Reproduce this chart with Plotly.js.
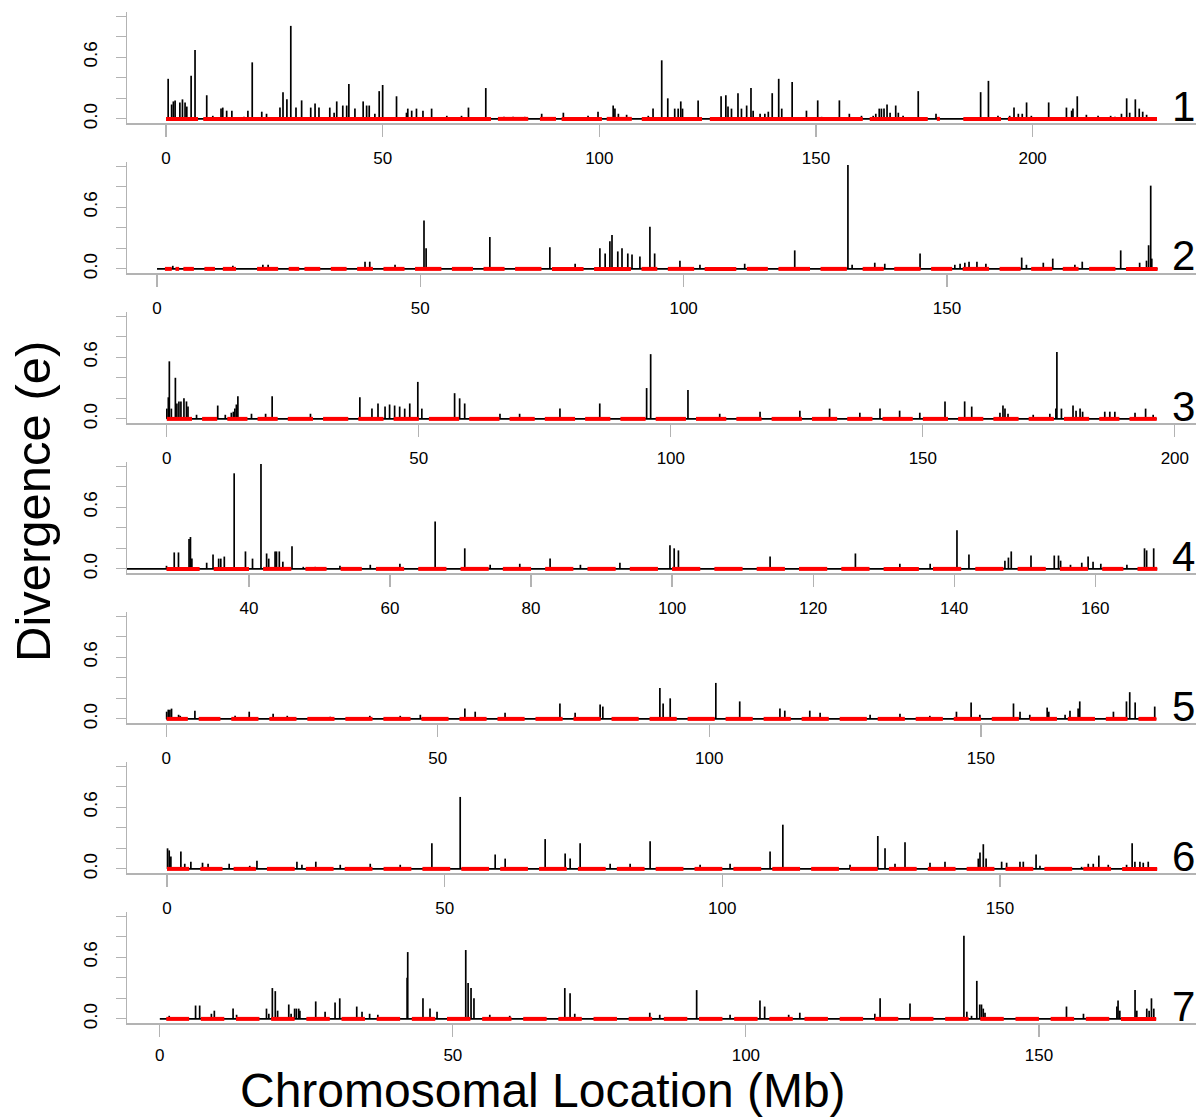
<!DOCTYPE html>
<html><head><meta charset="utf-8">
<script src="https://cdn.plot.ly/plotly-3.0.1.min.js"></script>
<style>body{margin:0;background:#fff}#chart{width:1196px;height:1120px}</style>
</head><body><div id="chart"></div>
<script>
// ---- data: spike positions (Mb) and divergence values per chromosome ----
const chr1Pos = [0.5,1.3,1.7,2.1,3.2,3.8,4.4,4.8,5.8,6.7,9.4,10.8,12.7,13.1,14.0,15.2,18.0,18.9,19.9,22.1,23.2,26.3,27.0,27.9,28.8,30.0,31.3,33.4,34.4,35.3,37.8,38.8,39.4,40.8,41.7,42.2,43.6,45.5,46.3,46.9,48.2,49.2,50.0,53.2,55.5,55.8,56.7,57.8,59.3,61.3,64.8,68.2,69.8,73.8,78,80.1,82.8,86.7,91.7,97.4,99.7,103.2,103.6,104.4,106.3,111.3,112.4,114.4,115.8,117.4,118.2,118.8,119.2,122.8,128.1,129.2,129.7,130.5,132.0,132.8,134.0,135.0,135.5,137.1,138.2,139.0,139.9,141.4,142.1,144.5,147.8,150.4,151.3,155.4,157.7,160.5,163.2,163.8,164.6,165.1,165.7,166.4,167.1,168.4,169.0,170.1,173.6,177.7,188.0,189.8,192.0,194.7,195.7,196.7,197.6,198.6,199.7,203.7,207.8,209.0,209.3,210.3,212.4,215.1,218.0,219.0,220.5,221.7,222.4,223.7,224.6,225.4,226.3];
const chr1Val = [0.39,0.14,0.17,0.18,0.16,0.19,0.16,0.12,0.42,0.67,0.23,0.03,0.10,0.11,0.08,0.08,0.02,0.08,0.55,0.07,0.05,0.11,0.26,0.19,0.905,0.11,0.18,0.11,0.15,0.11,0.11,0.06,0.17,0.13,0.13,0.34,0.10,0.17,0.13,0.13,0.05,0.27,0.33,0.22,0.06,0.10,0.08,0.10,0.08,0.10,0.03,0.03,0.11,0.30,0.02,0.02,0.02,0.05,0.06,0.03,0.07,0.13,0.10,0.05,0.04,0.03,0.10,0.57,0.20,0.10,0.10,0.17,0.10,0.18,0.22,0.23,0.12,0.10,0.25,0.10,0.13,0.30,0.08,0.05,0.05,0.07,0.25,0.39,0.10,0.36,0.08,0.18,0.02,0.18,0.05,0.03,0.03,0.05,0.10,0.10,0.10,0.14,0.06,0.13,0.06,0.03,0.27,0.05,0.26,0.37,0.03,0.03,0.11,0.05,0.05,0.16,0.03,0.16,0.11,0.08,0.10,0.22,0.04,0.03,0.03,0.02,0.05,0.20,0.06,0.19,0.10,0.07,0.04];

const chr2Pos = [3.0,14.4,20.1,21.1,39.5,40.4,45.2,50.7,51.1,63.2,74.6,79.4,84.1,85.1,86.0,86.4,87.5,88.3,89.4,90.2,91.7,93.6,94.5,99.3,103.1,111.6,121.1,131.2,132.0,136.3,138.2,144.9,151.5,152.5,153.4,154.2,155.7,157.4,164.2,165.1,168.3,170.1,174.3,175.7,183.0,186.6,187.9,188.3,188.7,188.9];
const chr2Val = [0.03,0.03,0.04,0.04,0.07,0.07,0.04,0.47,0.20,0.31,0.21,0.05,0.20,0.15,0.27,0.33,0.17,0.20,0.15,0.14,0.12,0.41,0.15,0.08,0.04,0.05,0.18,1.01,0.04,0.06,0.05,0.15,0.04,0.05,0.06,0.07,0.07,0.05,0.11,0.04,0.06,0.10,0.04,0.07,0.18,0.06,0.08,0.23,0.81,0.10];

const chr3Pos = [0.0,0.3,0.5,0.9,1.7,2.0,2.4,2.8,3.4,3.9,4.2,5.9,10.1,11.6,12.8,13.2,13.5,13.8,14.1,16.8,19.6,20.9,28.5,38.3,40.7,41.9,43.3,44.2,45.2,46.2,47.2,48.2,49.8,50.6,57.1,58.1,59.1,66.1,70.0,78.0,85.9,95.2,96.0,103.4,109.7,117.7,125.6,131.5,137.5,141.5,145.4,149.4,154.4,158.3,159.7,165.3,165.9,166.3,166.9,171.9,175.2,176.4,176.6,177.5,179.8,180.4,181.2,181.7,186.1,187.1,188.1,192.1,194.2,195.7];
const chr3Val = [0.10,0.21,0.56,0.10,0.40,0.15,0.17,0.17,0.20,0.17,0.12,0.04,0.13,0.04,0.06,0.07,0.10,0.14,0.22,0.05,0.05,0.22,0.05,0.21,0.10,0.15,0.12,0.14,0.13,0.12,0.10,0.15,0.36,0.10,0.25,0.20,0.15,0.05,0.05,0.10,0.15,0.30,0.63,0.28,0.05,0.07,0.08,0.10,0.06,0.10,0.08,0.06,0.17,0.17,0.12,0.06,0.13,0.10,0.05,0.04,0.05,0.10,0.65,0.10,0.13,0.08,0.10,0.07,0.07,0.07,0.07,0.06,0.10,0.04];

const chr4Pos = [28.3,29.4,30.0,31.5,31.7,31.9,34.0,34.9,35.7,36.0,36.5,37.9,39.5,40.5,41.7,42.5,42.8,43.7,43.9,44.3,44.8,46.1,47.7,49.4,52.9,57.2,61.4,66.4,70.6,74.2,78.4,82.7,87.0,92.6,99.7,100.3,100.9,113.9,126.0,132.3,136.6,140.4,142.1,147.2,147.7,148.1,150.9,154.2,154.8,155.1,156.5,158.1,159.0,159.7,160.8,164.5,167.0,167.3,168.3];
const chr4Val = [0.03,0.16,0.16,0.29,0.31,0.10,0.06,0.14,0.10,0.10,0.12,0.93,0.17,0.10,1.02,0.15,0.10,0.17,0.17,0.17,0.07,0.22,0.02,0.02,0.03,0.04,0.05,0.46,0.20,0.04,0.05,0.10,0.04,0.06,0.23,0.20,0.18,0.12,0.15,0.05,0.05,0.375,0.14,0.08,0.11,0.17,0.13,0.13,0.13,0.08,0.04,0.06,0.12,0.07,0.05,0.04,0.20,0.18,0.20];

const chr5Pos = [0.1,0.4,0.7,1.0,2.3,2.6,5.3,12.7,15.3,19.7,22.3,30.2,37.5,43.1,46.8,55.0,56.9,62.4,72.5,75.3,79.9,80.4,90.9,91.5,92.8,101.2,105.6,113.0,113.9,118.5,120.4,129.6,135.1,140.6,145.5,148.2,149.8,156.0,157.2,159.0,162.2,162.5,165.5,166.4,167.9,168.2,174.4,176.8,177.4,178.4,182.0];
const chr5Val = [0.07,0.09,0.09,0.10,0.04,0.03,0.08,0.03,0.07,0.05,0.03,0.02,0.03,0.03,0.04,0.10,0.07,0.06,0.15,0.06,0.14,0.12,0.30,0.15,0.20,0.35,0.17,0.10,0.08,0.08,0.06,0.04,0.05,0.03,0.07,0.16,0.04,0.15,0.07,0.04,0.11,0.07,0.04,0.08,0.10,0.17,0.07,0.17,0.26,0.16,0.12];

const chr6Pos = [0.1,0.4,0.7,2.5,3.2,4.3,6.4,7.4,11.2,14.9,16.2,23.4,24.3,26.8,31.2,36.6,42.0,47.7,52.8,59.1,60.9,68.1,71.7,72.6,74.4,79.8,83.4,87.0,96.0,101.4,108.6,110.9,123.0,128.0,129.3,131.1,132.9,137.4,140.1,146.1,146.4,147.0,147.5,150.3,151.2,153.6,154.2,156.5,157.2,164.7,165.9,166.8,167.8,169.5,172.8,173.8,174.3,175.2,175.8,176.7];
const chr6Val = [0.20,0.18,0.12,0.17,0.05,0.07,0.06,0.05,0.05,0.03,0.08,0.07,0.04,0.07,0.04,0.05,0.04,0.25,0.70,0.14,0.10,0.29,0.15,0.10,0.25,0.05,0.05,0.27,0.04,0.05,0.17,0.43,0.04,0.32,0.20,0.05,0.26,0.06,0.07,0.10,0.16,0.24,0.10,0.07,0.06,0.07,0.07,0.14,0.03,0.02,0.05,0.05,0.13,0.04,0.04,0.25,0.07,0.07,0.06,0.07];

const chr7Pos = [1.6,6.1,6.8,8.8,9.3,12.5,13.1,18.2,18.6,19.2,19.7,20.1,22.0,22.4,23.0,23.3,23.7,23.9,26.6,28.2,29.9,30.7,33.6,34.5,35.8,37.2,42.2,42.3,44.9,46.1,47.3,52.2,52.6,53.1,53.6,56.3,59.7,69.1,70.0,70.8,83.6,85.3,91.6,97.3,102.4,103.2,107.3,109.2,122.0,122.9,128.0,137.2,137.7,138.5,139.4,139.9,140.2,140.5,140.8,154.7,157.6,163.3,163.5,163.8,166.4,166.7,168.4,168.8,169.2,169.6];
const chr7Val = [0.03,0.13,0.13,0.05,0.08,0.10,0.04,0.10,0.05,0.30,0.27,0.08,0.14,0.05,0.10,0.10,0.10,0.08,0.17,0.07,0.16,0.20,0.12,0.07,0.05,0.04,0.40,0.65,0.20,0.10,0.07,0.67,0.35,0.30,0.20,0.04,0.03,0.30,0.25,0.05,0.06,0.04,0.28,0.04,0.18,0.12,0.04,0.06,0.05,0.20,0.15,0.81,0.07,0.03,0.37,0.14,0.14,0.10,0.06,0.12,0.05,0.12,0.18,0.08,0.28,0.08,0.10,0.08,0.20,0.10];

// chromosome extents (Mb) for the black baseline
const chrStart = [0, 0, 0, 20, 0, 0, 0];
const chrEnd   = [228.7, 190, 196.4, 168.8, 182.3, 178.3, 170];

// red (near-zero) segments, start/end in Mb
const redStart1 = [0,8.6,76.6,86.3,91.3,101.7,109.8,125.5,162.4,177.9,184,194.3];
const redEnd1   = [7.4,75,83.6,90,100.6,107.5,123.7,160.8,175.8,178.6,192.7,228.7];
const redStart2 = [1.5,3.5,5,9,12.5,19,25,28,33,38,43,49,56,62,68,75,83,92,97,104,112,118,126,134,140,147,153,160,166,172,177,184];
const redEnd2   = [2.8,4.2,7,11,15,23,27,31,36,41,47,54,60,66,73,81,90,95,102,110,116,124,131,138,145,151,158,164,170,175,182,190];
const redStart3 = [0,7,12,18,24,31,38,45,52,60,68,75,83,90,97,105,113,120,128,135,142,150,157,164,171,178,185,191];
const redEnd3   = [5,10,16,22,29,36,43,50,58,66,73,81,88,95,103,111,118,126,133,140,148,155,162,169,176,183,189,196.4];
const redStart4 = [28.3,35,42,48,53,58,64,70,76,82,88,94,100,106,112,118,124,130,137,143,149,155,161,166];
const redEnd4   = [33,40,46,51,56,62,68,74,80,86,92,98,104,110,116,122,128,135,141,147,153,159,164,168.8];
const redStart5 = [0.1,6,12,19,26,33,40,47,54,61,68,75,82,89,96,103,110,117,124,131,138,145,152,159,166,173,179];
const redEnd5   = [4,10,17,24,31,38,45,52,59,66,73,80,87,94,101,108,115,122,129,136,143,150,157,164,171,177,182.3];
const redStart6 = [0,6,12,18,25,32,39,46,53,60,67,74,81,88,95,102,109,116,123,130,137,144,151,158,165,172];
const redEnd6   = [4,10,16,23,30,37,44,51,58,65,72,79,86,93,100,107,114,121,128,135,142,149,156,163,170,178.3];
const redStart7 = [1.1,7,13,19,25,31,37,43,49,55,62,68,74,80,86,92,98,104,110,116,122,128,134,140,146,152,158,164];
const redEnd7   = [5,11,17,23,29,35,41,47,53,60,66,72,78,84,90,96,102,108,114,120,126,132,138,144,150,156,162,170];

// axis tick labels per panel
const xTicks1 = [0,50,100,150,200];
const xTicks2 = [0,50,100,150];
const xTicks3 = [0,50,100,150,200];
const xTicks4 = [40,60,80,100,120,140,160];
const xTicks5 = [0,50,100,150];
const xTicks6 = [0,50,100,150];
const xTicks7 = [0,50,100,150];
const yTickVals = [0,0.2,0.4,0.6,0.8,1.0];
const yTickText = ['0.0','','','0.6','',''];
const chrLabels = ['1','2','3','4','5','6','7'];

// ---- build ----
const W = 1196, H = 1120;
const pos = [chr1Pos,chr2Pos,chr3Pos,chr4Pos,chr5Pos,chr6Pos,chr7Pos];
const val = [chr1Val,chr2Val,chr3Val,chr4Val,chr5Val,chr6Val,chr7Val];
const rS = [redStart1,redStart2,redStart3,redStart4,redStart5,redStart6,redStart7];
const rE = [redEnd1,redEnd2,redEnd3,redEnd4,redEnd5,redEnd6,redEnd7];
const ticks = [xTicks1,xTicks2,xTicks3,xTicks4,xTicks5,xTicks6,xTicks7];
const xRanges = [[-9.0,237.7],[-5.7,197.3],[-7.9,204.2],[22.7,174.3],[-7.2,189.6],[-7.2,185.3],[-5.6,176.8]];
const zeroPx = [119,269,419,569,719,869,1019];
const AX = '#b3b3b3';
const FONT = 'Liberation Sans, Arial, Helvetica, sans-serif';

const traces = [];
const layout = {
  width: W, height: H, margin:{l:0,r:0,t:0,b:0},
  paper_bgcolor:'#fff', plot_bgcolor:'#fff', showlegend:false,
  font:{family:FONT, color:'#000'}, annotations:[]
};

for (let i=0;i<7;i++){
  const s = i===0 ? '' : String(i+1);
  const xa = 'x'+s, ya = 'y'+s;
  const xlo = Math.max(chrStart[i], xRanges[i][0]);
  traces.push({type:'scatter', mode:'lines', x:[xlo, chrEnd[i]], y:[0,0], xaxis:xa, yaxis:ya,
    line:{color:'#000', width:1.6}, hoverinfo:'skip'});
  const sx=[], sy=[];
  pos[i].forEach((p,k)=>{ sx.push(p,p,null); sy.push(0,val[i][k],null); });
  traces.push({type:'scatter', mode:'lines', x:sx, y:sy, xaxis:xa, yaxis:ya,
    line:{color:'#000', width:1.7}, hoverinfo:'skip'});
  const rx=[], ry=[];
  rS[i].forEach((a,k)=>{ rx.push(a, rE[i][k], null); ry.push(0,0,null); });
  traces.push({type:'scatter', mode:'lines', x:rx, y:ry, xaxis:xa, yaxis:ya,
    line:{color:'#ff0000', width:4}, hoverinfo:'skip'});

  const bot = 1 - (zeroPx[i]+4)/H, top = 1 - (zeroPx[i]-107)/H;
  layout['xaxis'+s] = {domain:[127/W, 1], range:xRanges[i], anchor:ya,
    tickvals:ticks[i], ticktext:ticks[i].map(String), ticks:'outside', ticklen:12, tickwidth:1.2,
    tickcolor:AX, showline:true, linecolor:AX, linewidth:1.5, showgrid:false, zeroline:false,
    tickfont:{family:FONT, size:17, color:'#000'}, ticklabelstandoff:(i===6?4:7), fixedrange:true};
  layout['yaxis'+s] = {domain:[bot, top], range:[-0.04,1.04], anchor:xa,
    tickvals:yTickVals, ticktext:yTickText, ticks:'outside', ticklen:10, tickwidth:1.2,
    tickcolor:AX, showline:true, linecolor:AX, linewidth:1.5, showgrid:false, zeroline:false,
    tickangle:-90, tickfont:{family:FONT, size:19, color:'#000'}, ticklabelstandoff:11, fixedrange:true};
  layout.annotations.push({xref:'paper', yref:'paper', x:1183/W, y:1-(zeroPx[i]-13)/H,
    text:chrLabels[i], showarrow:false, xanchor:'center', yanchor:'middle',
    font:{family:FONT, size:42, color:'#000'}});
}
layout.annotations.push({xref:'paper', yref:'paper', x:33/W, y:1-502/H, text:'Divergence (e)',
  textangle:-90, showarrow:false, xanchor:'center', yanchor:'middle', font:{family:FONT, size:49, color:'#000'}});
layout.annotations.push({xref:'paper', yref:'paper', x:543/W, y:1-1090/H, text:'Chromosomal Location (Mb)',
  showarrow:false, xanchor:'center', yanchor:'middle', font:{family:FONT, size:48, color:'#000'}});

Plotly.newPlot('chart', traces, layout, {staticPlot:true, displayModeBar:false});
</script></body></html>
